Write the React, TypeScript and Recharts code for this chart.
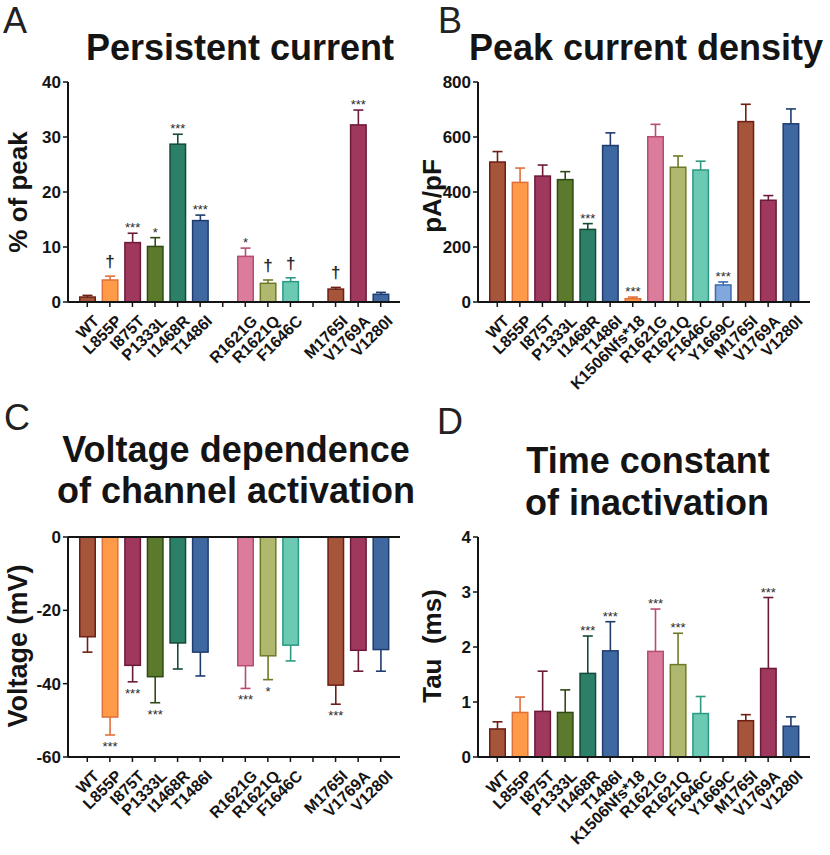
import React from 'react'
import { BarChart, Bar, XAxis, YAxis, ReferenceLine } from 'recharts'

const FONT = '"Liberation Sans", Arial, Helvetica, sans-serif'
const INK = '#141414'

// variants in plotting order (K1506Nfs*18 and Y1669C were not measured in A and C)
const variants = [
  'WT', 'L855P', 'I875T', 'P1333L', 'I1468R', 'T1486I', 'K1506Nfs*18',
  'R1621G', 'R1621Q', 'F1646C', 'Y1669C', 'M1765I', 'V1769A', 'V1280I',
]
const labelsAll = variants
const labelsGapped = [
  'WT', 'L855P', 'I875T', 'P1333L', 'I1468R', 'T1486I', '',
  'R1621G', 'R1621Q', 'F1646C', '', 'M1765I', 'V1769A', 'V1280I',
]

const fills = [
  '#a5553a', '#ff9a48', '#a0385e', '#5c7a2c', '#2c8068', '#4068a0', '#ff9a48',
  '#dc7c9c', '#b0b870', '#6ccab4', '#80a8dc', '#a5553a', '#a0385e', '#4068a0',
]
const strokes = [
  '#6e1e12', '#e0703a', '#6c1a3a', '#2f4a14', '#134a38', '#1e3c70', '#e0703a',
  '#b84c70', '#6e7a28', '#2c9a80', '#3c6cb0', '#6e1e12', '#6c1a3a', '#1e3c70',
]

// A: persistent current, % of peak
const persistent = [0.9, 4.0, 10.8, 10.1, 28.7, 14.8, null, 8.3, 3.4, 3.7, null, 2.35, 32.2, 1.4]
const persistentErr = [0.3, 0.7, 1.7, 1.6, 1.8, 1.0, null, 1.5, 0.6, 0.7, null, 0.3, 2.7, 0.35]
const persistentSig = ['', '†', '***', '*', '***', '***', '', '*', '†', '†', '', '†', '***', '']

// B: peak current density, pA/pF
const peak = [509, 435, 458, 445, 264, 569, 12, 601, 490, 480, 62, 656, 370, 648]
const peakErr = [38, 52, 40, 29, 21, 46, 6, 45, 41, 32, 11, 63, 17, 54]
const peakSig = ['', '', '', '', '***', '', '***', '', '', '', '***', '', '', '']

// C: voltage dependence of activation, mV
const voltage = [-27.2, -49.1, -35.0, -38.1, -28.9, -31.4, null, -35.1, -32.4, -29.5, null, -40.4, -30.9, -30.7]
const voltageErr = [4.2, 4.9, 4.5, 7.1, 7.1, 6.5, null, 6.2, 6.5, 4.3, null, 5.2, 5.7, 5.9]
const voltageSig = ['', '***', '***', '***', '', '', '', '***', '*', '', '', '***', '', '']

// D: time constant of inactivation, ms
const tau = [0.51, 0.81, 0.83, 0.81, 1.52, 1.93, null, 1.92, 1.68, 0.79, null, 0.66, 1.61, 0.56]
const tauErr = [0.13, 0.28, 0.73, 0.41, 0.68, 0.53, null, 0.77, 0.57, 0.31, null, 0.11, 1.29, 0.17]
const tauSig = ['', '', '', '', '***', '***', '', '***', '***', '', '', '', '***', '']

type Dir = 'up' | 'down'

const buildRows = (values: (number | null)[], errs: (number | null)[], sigs: string[], dir: Dir) =>
  variants.map((name, i) => {
    const v = values[i]
    const e = errs[i] ?? 0
    return {
      name,
      value: v,
      err: v == null ? null : dir === 'up' ? [v, v + e] : [v - e, v],
      sig: sigs[i],
      fill: fills[i],
      stroke: strokes[i],
      dir,
    }
  })

const BarShape = (props: any) => {
  const { x, y, width, height, payload } = props
  if (!payload || payload.value == null) return null
  const top = Math.min(y, y + height)
  const h = Math.abs(height)
  return (
    <rect x={x + 0.75} y={top} width={width - 1.5} height={h}
      fill={payload.fill} stroke={payload.stroke} strokeWidth={1.5} />
  )
}

const ErrShape = (props: any) => {
  const { x, y, width, height, payload } = props
  if (!payload || payload.err == null) return null
  const cx = x + width / 2
  const top = Math.min(y, y + height)
  const bottom = Math.max(y, y + height)
  const up = payload.dir === 'up'
  const capY = up ? top : bottom
  const dagger = payload.sig === '†'
  return (
    <g>
      <line x1={cx} x2={cx} y1={top} y2={bottom} stroke={payload.stroke} strokeWidth={1.6} />
      <line x1={cx - 5} x2={cx + 5} y1={capY} y2={capY} stroke={payload.stroke} strokeWidth={1.6} />
      {payload.sig ? (
        <text
          x={cx}
          y={up ? capY - (dagger ? 9 : 1) : capY + 16}
          textAnchor="middle"
          fontFamily={FONT}
          fontSize={dagger ? 17 : 13}
          fontWeight={dagger ? 700 : 400}
          fill="#2a2a2a"
        >
          {payload.sig}
        </text>
      ) : null}
    </g>
  )
}

// rotated category label, end of text placed just right of and below the tick
const RotTick = ({ x, index, labels, axisY }: any) => {
  const label = labels[index]
  if (!label) return null
  const ox = x + 13
  const oy = axisY + 20
  return (
    <g transform={`translate(${ox},${oy}) rotate(-45)`}>
      <text x={0} y={0} textAnchor="end"
        fontFamily={FONT} fontSize={16} fontWeight={700} fill={INK}>
        {label}
      </text>
    </g>
  )
}

interface PanelProps {
  rows: ReturnType<typeof buildRows>
  labels: string[]
  domain: [number, number]
  ticks: number[]
  left: number
  top: number
  height: number
  marginTop: number
  yWidth: number
  xHeight: number
  zeroLine?: boolean
}

const PLOT_H = 220
const PLOT_W = 332

const Panel = ({ rows, labels, domain, ticks, left, top, height, marginTop, yWidth, xHeight, zeroLine }: PanelProps) => {
  const axisY = marginTop + PLOT_H
  return (
    <div style={{ position: 'absolute', left, top, width: 415, height }}>
      <BarChart
        width={415}
        height={height}
        data={rows}
        margin={{ top: marginTop, right: 415 - yWidth - PLOT_W, bottom: height - axisY - xHeight, left: 0 }}
        barSize={17}
      >
        <XAxis
          xAxisId="main"
          dataKey="name"
          interval={0}
          height={xHeight}
          padding={{ left: 8, right: 8 }}
          axisLine={{ stroke: INK, strokeWidth: 2 }}
          tickLine={{ stroke: INK, strokeWidth: 1.5 }}
          tickSize={5}
          tick={(p: any) => <RotTick {...p} labels={labels} axisY={axisY} />}
        />
        <XAxis xAxisId="err" dataKey="name" hide orientation="top" height={0} padding={{ left: 8, right: 8 }} />
        <YAxis
          type="number"
          domain={domain}
          ticks={ticks}
          interval={0}
          width={yWidth}
          axisLine={{ stroke: INK, strokeWidth: 2 }}
          tickLine={{ stroke: INK, strokeWidth: 1.5 }}
          tickSize={5}
          tick={{ fontSize: 17, fontWeight: 700, fill: INK, fontFamily: FONT }}
        />
        {zeroLine ? <ReferenceLine xAxisId="main" y={0} stroke={INK} strokeWidth={2} /> : null}
        <Bar xAxisId="main" dataKey="value" shape={BarShape} isAnimationActive={false} />
        <Bar xAxisId="err" dataKey="err" shape={ErrShape} isAnimationActive={false} />
      </BarChart>
    </div>
  )
}

const rowsA = buildRows(persistent, persistentErr, persistentSig, 'up')
const rowsB = buildRows(peak, peakErr, peakSig, 'up')
const rowsC = buildRows(voltage, voltageErr, voltageSig, 'down')
const rowsD = buildRows(tau, tauErr, tauSig, 'up')

const titleStyle = { fontFamily: FONT, fontSize: 36, fontWeight: 700, fill: INK } as const
const letterStyle = { fontFamily: FONT, fontSize: 36, fontWeight: 400, fill: '#222' } as const
const yLabelStyle = { fontFamily: FONT, fontWeight: 700, fill: INK } as const

export default function App() {
  return (
    <div style={{ position: 'absolute', left: 0, top: 0, width: 830, height: 855, background: '#fff' }}>
      <Panel rows={rowsA} labels={labelsGapped} domain={[0, 40]} ticks={[0, 10, 20, 30, 40]}
        left={0} top={0} height={420} marginTop={82} yWidth={68} xHeight={110} />
      <Panel rows={rowsB} labels={labelsAll} domain={[0, 800]} ticks={[0, 200, 400, 600, 800]}
        left={415} top={0} height={420} marginTop={82} yWidth={63} xHeight={110} />
      <Panel rows={rowsC} labels={labelsGapped} domain={[-60, 0]} ticks={[-60, -40, -20, 0]}
        left={0} top={420} height={435} marginTop={117} yWidth={68} xHeight={90} zeroLine />
      <Panel rows={rowsD} labels={labelsAll} domain={[0, 4]} ticks={[0, 1, 2, 3, 4]}
        left={415} top={420} height={435} marginTop={117} yWidth={63} xHeight={90} />

      <svg width={830} height={855} style={{ position: 'absolute', left: 0, top: 0, pointerEvents: 'none' }}>
        <text x={3} y={33} style={letterStyle}>A</text>
        <text x={438} y={33} style={letterStyle}>B</text>
        <text x={4} y={430} style={letterStyle}>C</text>
        <text x={437} y={434} style={letterStyle}>D</text>

        <text x={240} y={60} textAnchor="middle" style={titleStyle}>Persistent current</text>
        <text x={646} y={60} textAnchor="middle" style={titleStyle}>Peak current density</text>
        <text x={236} y={462} textAnchor="middle" style={titleStyle}>Voltage dependence</text>
        <text x={236} y={503} textAnchor="middle" style={titleStyle}>of channel activation</text>
        <text x={648} y={473} textAnchor="middle" style={titleStyle}>Time constant</text>
        <text x={647} y={515} textAnchor="middle" style={titleStyle}>of inactivation</text>

        <text transform="translate(27,192) rotate(-90)" textAnchor="middle" fontSize={26} style={yLabelStyle}>% of peak</text>
        <text transform="translate(441,196) rotate(-90)" textAnchor="middle" fontSize={26} style={yLabelStyle}>pA/pF</text>
        <text transform="translate(27,646) rotate(-90)" textAnchor="middle" fontSize={27} style={yLabelStyle}>Voltage (mV)</text>
        <text transform="translate(441,646) rotate(-90)" textAnchor="middle" fontSize={26}
          style={{ ...yLabelStyle, whiteSpace: 'pre' }}>Tau  (ms)</text>
      </svg>
    </div>
  )
}
